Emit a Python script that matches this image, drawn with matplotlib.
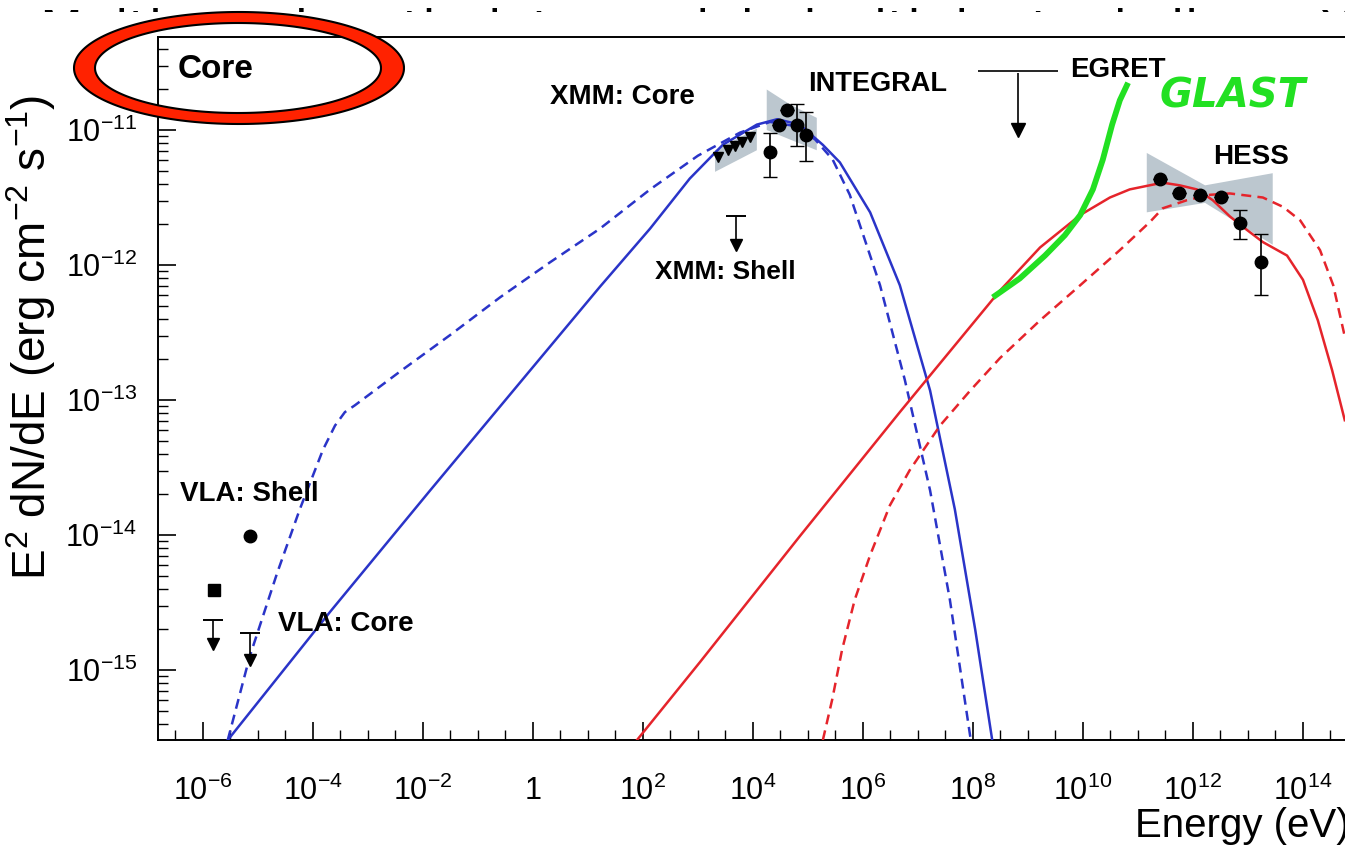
import numpy as np
import matplotlib
matplotlib.use("Agg")
from matplotlib import pyplot as plt
from matplotlib.path import Path
from matplotlib.patches import PathPatch, Polygon, Rectangle

plt.rcParams['font.family'] = ['Liberation Sans', 'DejaVu Sans']
plt.rcParams['mathtext.fontset'] = 'custom'
plt.rcParams['mathtext.rm'] = 'Liberation Sans'
plt.rcParams['mathtext.it'] = 'Liberation Sans:italic'
plt.rcParams['mathtext.bf'] = 'Liberation Sans:bold'

# ---- model curves (log10 E [eV], log10 E^2 dN/dE [erg cm^-2 s^-1]) ----
sync_core_loge = [-5.55, -3.69, -1.87, -0.05, 1.22, 2.13, 2.85, 3.45, 4.07, 4.44,
                  4.85, 5.27, 5.58, 6.13, 6.67, 7.22, 7.67, 8.04, 8.35]
sync_core_logf = [-15.52, -14.57, -13.67, -12.78, -12.16, -11.73, -11.36, -11.11, -10.96, -10.92,
                  -10.96, -11.11, -11.24, -11.61, -12.15, -12.93, -13.81, -14.70, -15.52]

sync_alt_loge = [-5.55, -5.15, -4.65, -4.24, -3.82, -3.60, -3.42, -3.24, -2.42, -1.51,
                 -0.60, 0.31, 1.22, 2.13, 3.00, 3.76, 4.31, 4.76, 5.13, 5.45,
                 5.76, 6.31, 6.76, 7.22, 7.58, 7.85, 7.96]
sync_alt_logf = [-15.52, -14.90, -14.28, -13.81, -13.37, -13.19, -13.09, -13.04, -12.79, -12.52,
                 -12.24, -11.98, -11.73, -11.44, -11.19, -11.02, -10.94, -10.97, -11.07, -11.22,
                 -11.48, -12.15, -12.85, -13.67, -14.48, -15.22, -15.52]

ic_core_loge = [1.89, 3.04, 4.85, 6.67, 8.49, 9.22, 9.95, 10.49, 10.85, 11.45,
                11.76, 12.07, 12.36, 12.67, 12.98, 13.27, 13.71, 14.00, 14.27, 14.53, 14.76]
ic_core_logf = [-15.52, -14.94, -14.01, -13.09, -12.19, -11.87, -11.63, -11.50, -11.44, -11.39,
                -11.41, -11.44, -11.52, -11.64, -11.74, -11.83, -11.93, -12.11, -12.41, -12.78, -13.15]

ic_alt_loge = [5.27, 5.44, 5.62, 5.85, 6.13, 6.49, 6.85, 7.40, 7.95, 8.49,
               9.22, 9.95, 10.67, 11.22, 11.45, 11.89, 12.31, 12.67, 13.27, 13.64,
               13.95, 14.31, 14.55, 14.76]
ic_alt_logf = [-15.52, -15.22, -14.85, -14.48, -14.15, -13.78, -13.52, -13.19, -12.93, -12.69,
               -12.41, -12.15, -11.89, -11.68, -11.58, -11.52, -11.48, -11.47, -11.50, -11.57,
               -11.67, -11.89, -12.15, -12.53]

glast_loge = [8.36, 8.85, 9.31, 9.67, 9.95, 10.18, 10.36, 10.53, 10.67, 10.82]
glast_logf = [-12.24, -12.10, -11.93, -11.78, -11.63, -11.44, -11.22, -10.96, -10.78, -10.65]

# ---- measurements ----
vla_shell_loge, vla_shell_logf = [-5.15], [-14.01]
vla_sq_loge, vla_sq_logf = [-5.80], [-14.41]
vla_ul_loge = [-5.82, -5.15]
vla_ul_cap = [-14.63, -14.73]
vla_ul_tip = [-14.81, -14.93]

xmm_core_loge = [3.36, 3.55, 3.67, 3.80, 3.95]
xmm_core_logf = [-11.20, -11.15, -11.12, -11.09, -11.05]
xmm_band_loge = [3.31, 4.07, 4.07, 3.31]
xmm_band_logf = [-11.15, -10.99, -11.15, -11.31]

xmm_shell_loge, xmm_shell_cap, xmm_shell_tip = [3.69], [-11.64], [-11.85]

integral_loge = [4.31, 4.47, 4.62, 4.80, 4.96]
integral_logf = [-11.16, -10.96, -10.85, -10.96, -11.04]
integral_lo = [-11.35, -10.96, -10.85, -11.12, -11.23]
integral_hi = [-11.02, -10.96, -10.85, -10.81, -10.87]
integral_bow_loge = [4.25, 4.67, 5.16, 5.16, 4.67, 4.25]
integral_bow_logf = [-10.70, -10.81, -10.91, -11.15, -11.07, -11.00]

egret_bar_loge = [8.09, 9.55]
egret_loge, egret_cap, egret_tip = [8.82], [-10.58], [-11.00]
egret_level = -10.56

hess_loge = [11.40, 11.75, 12.13, 12.51, 12.85, 13.24]
hess_logf = [-11.36, -11.47, -11.48, -11.50, -11.69, -11.98]
hess_lo = [-11.36, -11.47, -11.48, -11.50, -11.81, -12.22]
hess_hi = [-11.36, -11.47, -11.48, -11.50, -11.59, -11.77]
hess_bow_loge = [11.16, 12.22, 13.45, 13.45, 12.22, 11.16]
hess_bow_logf = [-11.17, -11.41, -11.32, -11.85, -11.54, -11.61]

x_tick_exp = [-6, -4, -2, 0, 2, 4, 6, 8, 10, 12, 14]
x_tick_labels = [r'$\mathdefault{10^{-6}}$', r'$\mathdefault{10^{-4}}$', r'$\mathdefault{10^{-2}}$', '1',
                 r'$\mathdefault{10^{2}}$', r'$\mathdefault{10^{4}}$', r'$\mathdefault{10^{6}}$',
                 r'$\mathdefault{10^{8}}$', r'$\mathdefault{10^{10}}$', r'$\mathdefault{10^{12}}$',
                 r'$\mathdefault{10^{14}}$']
y_tick_exp = [-15, -14, -13, -12, -11]
y_tick_labels = [r'$\mathdefault{10^{-15}}$', r'$\mathdefault{10^{-14}}$', r'$\mathdefault{10^{-13}}$',
                 r'$\mathdefault{10^{-12}}$', r'$\mathdefault{10^{-11}}$']


def p10(v):
    return 10.0 ** np.asarray(v, dtype=float)


W, H = 1345, 852
fig = plt.figure(figsize=(W / 100, H / 100), dpi=100)
ax = fig.add_axes([158 / W, 112 / H, 1 - 158 / W, 703 / H])
ax.set_xscale('log')
ax.set_yscale('log')
ax.set_xlim(10 ** -6.818, 10 ** 14.764)
ax.set_ylim(10 ** -15.519, 10 ** -10.311)

blue = '#2a34c8'
red = '#e5242b'
gray = '#bcc7cf'

# bowties
for bx, by in ((xmm_band_loge, xmm_band_logf), (integral_bow_loge, integral_bow_logf),
               (hess_bow_loge, hess_bow_logf)):
    ax.add_patch(Polygon(np.column_stack([p10(bx), p10(by)]), closed=True,
                         facecolor=gray, edgecolor='none', zorder=1))

# model curves
ax.plot(p10(sync_core_loge), p10(sync_core_logf), color=blue, lw=1.8, zorder=3)
ax.plot(p10(sync_alt_loge), p10(sync_alt_logf), color=blue, lw=1.8, ls=(0, (4, 2.5)), zorder=3)
ax.plot(p10(ic_core_loge), p10(ic_core_logf), color=red, lw=1.8, zorder=3)
ax.plot(p10(ic_alt_loge), p10(ic_alt_logf), color=red, lw=1.8, ls=(0, (4, 2.5)), zorder=3)
ax.plot(p10(glast_loge), p10(glast_logf), color='#22e022', lw=4.2, solid_capstyle='butt', zorder=6)

# data points
k = dict(color='black', zorder=5)
ax.plot(p10(vla_shell_loge), p10(vla_shell_logf), 'o', ms=9, **k)
ax.plot(p10(vla_sq_loge), p10(vla_sq_logf), 's', ms=8, **k)
ul_x = p10(vla_ul_loge + xmm_shell_loge)
ul_cap = p10(vla_ul_cap + xmm_shell_cap)
ul_tip = p10(vla_ul_tip + xmm_shell_tip)
ax.vlines(ul_x, ul_tip, ul_cap, colors='black', lw=1.2, zorder=5)
ax.plot(ul_x, ul_cap, '_', ms=14, mew=1.4, **k)
ax.plot(ul_x, ul_tip, 'v', ms=9, **k)

ax.plot(p10(xmm_core_loge), p10(xmm_core_logf), 'v', ms=7, **k)

ie = p10(integral_logf)
ax.errorbar(p10(integral_loge), ie,
            yerr=[ie - p10(integral_lo), p10(integral_hi) - ie],
            fmt='o', ms=9, color='black', ecolor='black', elinewidth=1.2, capsize=5, zorder=5)

he = p10(hess_logf)
ax.errorbar(p10(hess_loge), he,
            yerr=[he - p10(hess_lo), p10(hess_hi) - he],
            fmt='o', ms=9, color='black', ecolor='black', elinewidth=1.2, capsize=5, zorder=5)

ax.hlines(10 ** egret_level, *p10(egret_bar_loge), colors='black', lw=1.2, zorder=5)
ax.vlines(p10(egret_loge), p10(egret_tip), p10(egret_cap), colors='black', lw=1.2, zorder=5)
ax.plot(p10(egret_loge), p10(egret_tip), 'v', ms=10, **k)

# axes cosmetics
ax.spines['right'].set_visible(False)
for s in ('left', 'top', 'bottom'):
    ax.spines[s].set_linewidth(1.4)
ax.set_xticks(p10(x_tick_exp))
ax.set_xticklabels(x_tick_labels)
ax.set_xticks(p10(np.arange(-6.5, 15, 0.5)), minor=True)
ax.xaxis.set_minor_formatter(plt.NullFormatter())
ax.set_yticks(p10(y_tick_exp))
ax.set_yticklabels(y_tick_labels)
ax.yaxis.set_minor_locator(matplotlib.ticker.LogLocator(base=10, subs=np.arange(2, 10)))
ax.yaxis.set_minor_formatter(plt.NullFormatter())
ax.tick_params(which='major', direction='in', length=13, width=1.2, labelsize=22)
ax.tick_params(which='minor', direction='in', length=7, width=1.0)
ax.tick_params(axis='x', which='major', pad=26)
ax.tick_params(axis='y', which='major', pad=15)
ax.tick_params(top=False, right=False, which='both')

ax.set_ylabel(r'$\mathdefault{E^{2}\ dN/dE\ (erg\ cm^{-2}\ s^{-1})}$', fontsize=33)
ax.yaxis.set_label_coords(-0.084, 0.573)
fig.text(1135 / W, 1 - 826 / H, 'Energy (eV)', fontsize=29, ha='left', va='center')

# annotations
def lab(x, y, s, size=20, **kw):
    fig.text(x / W, 1 - y / H, s, fontsize=size, fontweight='bold', ha='left', va='center',
             zorder=8, **kw)

lab(178, 70, 'Core', size=24)
lab(550, 97, 'XMM: Core')
lab(808, 84, 'INTEGRAL', size=19.5)
lab(1070, 70, 'EGRET')
lab(1213, 157, 'HESS')
lab(655, 272, 'XMM: Shell', size=19)
lab(180, 494, 'VLA: Shell')
lab(278, 624, 'VLA: Core')
fig.text(1160 / W, 1 - 97 / H, 'GLAST', fontsize=29, fontweight='bold', style='italic',
         family='DejaVu Sans', color='#22e022', ha='left', va='center', zorder=8)

# slide heading, mostly hidden behind the plot panel
fig.text(40 / W, 1 - 46 / H, 'Multiwavelength data modeled with leptonic lines, X-ray',
         fontsize=36, family='DejaVu Sans', ha='left', va='baseline', zorder=-2)
fig.add_artist(Rectangle((0, 1 - 60 / H), 1, 48 / H, transform=fig.transFigure,
                         facecolor='white', edgecolor='none', zorder=-1))

# highlight ring around the panel name
t = np.linspace(0, 2 * np.pi, 200)
ox, oy = 239 + 165 * np.cos(t), 68 + 56 * np.sin(t)
ix, iy = 238 + 143 * np.cos(t[::-1]), 68 + 45 * np.sin(t[::-1])
verts = np.vstack([np.column_stack([ox, oy]), np.column_stack([ix, iy])])
verts[:, 0] /= W
verts[:, 1] = 1 - verts[:, 1] / H
codes = np.full(len(verts), Path.LINETO)
codes[0] = Path.MOVETO
codes[len(t)] = Path.MOVETO
ring = PathPatch(Path(verts, codes), transform=fig.transFigure, facecolor='#ff2200',
                 edgecolor='black', lw=1.5, zorder=10)
fig.add_artist(ring)

fig.savefig('out.png', dpi=100)
